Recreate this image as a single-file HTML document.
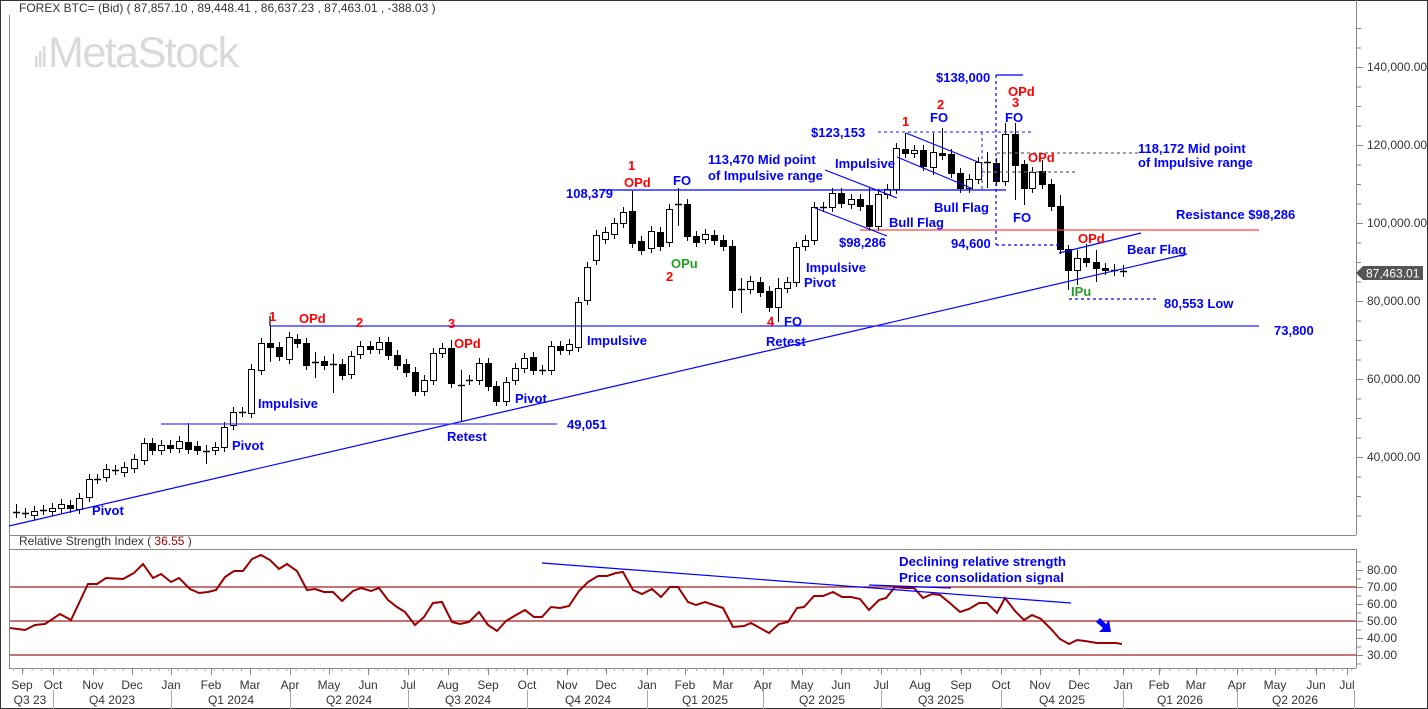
<!DOCTYPE html>
<html><head><meta charset="utf-8"><style>
html,body{margin:0;padding:0;background:#fff;}
svg{display:block;font-family:"Liberation Sans",Arial,sans-serif;}
.bl{fill:#0000ff;font-weight:bold;font-size:13px;}
.rd{fill:#ff0000;font-weight:bold;font-size:13px;}
.gr{fill:#22a022;font-weight:bold;font-size:13px;}
.ax{fill:#333;font-size:12px;}
</style></head><body>
<svg id="s" width="1428" height="709" viewBox="0 0 1428 709" xmlns="http://www.w3.org/2000/svg">
<rect x="0.5" y="0.5" width="1427" height="708" fill="#fff" stroke="#333"/>
<text x="19" y="12" font-size="12" fill="#333">FOREX BTC= (Bid)  ( 87,857.10 ,  89,448.41 ,  86,637.23 ,  87,463.01 ,  -388.03 )</text>
<g fill="#d9d9d9"><rect x="35" y="56" width="2.5" height="11"/><rect x="39" y="51" width="2.5" height="16"/><rect x="43" y="46" width="2.5" height="21"/></g>
<text x="48" y="67" font-size="43" fill="#d9d9d9" letter-spacing="-1.5">MetaStock</text>
<!-- frames -->
<g stroke="#888" fill="none">
<line x1="9.5" y1="15" x2="9.5" y2="668"/>
<line x1="9" y1="535.5" x2="1356" y2="535.5"/>
<line x1="1356.5" y1="0" x2="1356.5" y2="535"/>
<line x1="9" y1="549.5" x2="1356" y2="549.5"/>
<line x1="1356.5" y1="549" x2="1356.5" y2="668"/>
<line x1="9" y1="668.5" x2="1356" y2="668.5"/>
</g>
<g id="g"></g>
<!-- RSI -->
<text x="19" y="545" font-size="12" fill="#333">Relative Strength Index  ( <tspan fill="#a00000">36.55</tspan> )</text>
<g stroke="#a02020" stroke-width="1.2"><line x1="10" y1="587" x2="1356" y2="587"/><line x1="10" y1="621" x2="1356" y2="621"/><line x1="10" y1="655" x2="1356" y2="655"/></g>
<polyline fill="none" stroke="#990000" stroke-width="2" points="10,628 25,630 35,625 45,624 60,614 71,620 88,584 97,584 106,578 123,579 134,573 143,564 153,578 161,574 171,582 179,578 190,589 199,593 208,592 216,590 225,577 234,571 243,571 252,559 261,555 270,560 279,569 287,564 297,571 307,590 315,589 324,592 333,592 342,601 353,591 361,588 371,591 379,588 388,600 397,607 405,612 415,625 424,617 433,603 442,602 452,622 460,624 469,622 479,612 488,625 497,631 506,621 516,615 525,610 534,617 542,617 551,607 560,608 569,606 579,591 588,582 598,576 607,576 616,573 623,572 633,590 642,594 652,589 661,597 670,587 678,587 688,602 696,605 705,602 723,608 733,627 744,626 751,623 760,628 769,633 779,624 788,622 797,608 804,607 814,596 823,596 833,592 842,597 851,597 860,599 869,610 879,600 886,598 895,587 904,588 914,588 923,598 932,594 940,595 951,604 960,612 969,609 979,603 987,603 997,613 1005,598 1015,611 1024,620 1032,615 1041,619 1050,628 1060,639 1069,644 1077,640 1085,641 1097,643 1116,643 1122,644"/>
<line x1="542" y1="563" x2="1071" y2="603" stroke="#0000ff" stroke-width="1.2"/>
<line x1="869" y1="585" x2="951" y2="588" stroke="#0000ff" stroke-width="1.2"/>
<text class="bl" x="899" y="566" textLength="167" lengthAdjust="spacingAndGlyphs">Declining relative strength</text>
<text class="bl" x="899" y="582" textLength="165" lengthAdjust="spacingAndGlyphs">Price consolidation signal</text>
<polygon fill="#0000ff" points="1096,622 1100,618 1106,624 1109,620 1111,632 1099,632 1103,628"/>
<!-- lines main -->
<g stroke-width="1.2">
<line x1="9" y1="526" x2="1187" y2="254" stroke="#0000ff"/>
<line x1="270" y1="326" x2="1259" y2="326" stroke="#2020ff"/>
<line x1="270" y1="316" x2="270" y2="326" stroke="#000"/>
<line x1="161" y1="424" x2="557" y2="424" stroke="#4040ff"/>
<line x1="600" y1="190" x2="1006" y2="190" stroke="#0000ff"/>
<line x1="860" y1="230" x2="1259" y2="230" stroke="#ff4040"/>
<line x1="996" y1="75" x2="1023" y2="75" stroke="#0000ff"/>
<line x1="825" y1="170" x2="897" y2="198" stroke="#0000ff"/>
<line x1="815" y1="208" x2="887" y2="236" stroke="#0000ff"/>
<line x1="906" y1="133" x2="978" y2="162" stroke="#0000ff"/>
<line x1="897" y1="157" x2="971" y2="188" stroke="#0000ff"/>
<line x1="1059" y1="253" x2="1141" y2="233" stroke="#0000ff"/>
</g>
<g stroke-width="1.2" fill="none" stroke-dasharray="3,3">
<line x1="996" y1="75" x2="996" y2="245" stroke="#0000ff"/>
<line x1="996" y1="245" x2="1062" y2="245" stroke="#0000ff"/>
<line x1="878" y1="132" x2="1032" y2="132" stroke="#4040ff"/>
<line x1="982" y1="132" x2="982" y2="190" stroke="#4040ff"/>
<line x1="982" y1="172" x2="1078" y2="172" stroke="#666"/>
<line x1="997" y1="153" x2="1138" y2="153" stroke="#666"/>
<line x1="1069" y1="299" x2="1159" y2="299" stroke="#0000ff"/>
</g>
<!-- labels -->
<g class="bl">
<text x="92" y="515">Pivot</text><text x="232" y="450">Pivot</text><text x="258" y="408">Impulsive</text>
<text x="447" y="441">Retest</text><text x="567" y="429">49,051</text><text x="515" y="403">Pivot</text>
<text x="587" y="345">Impulsive</text><text x="766" y="346">Retest</text><text x="784" y="326">FO</text>
<text x="806" y="272">Impulsive</text><text x="804" y="287">Pivot</text><text x="889" y="227">Bull Flag</text>
<text x="839" y="247">$98,286</text><text x="708" y="164">113,470 Mid point</text><text x="708" y="180">of Impulsive range</text>
<text x="835" y="168">Impulsive</text><text x="566" y="198">108,379</text><text x="673" y="185">FO</text>
<text x="811" y="137">$123,153</text><text x="930" y="122">FO</text><text x="934" y="212">Bull Flag</text>
<text x="936" y="82">$138,000</text><text x="1005" y="122">FO</text><text x="1013" y="222">FO</text>
<text x="951" y="248">94,600</text><text x="1138" y="153">118,172 Mid point</text><text x="1138" y="167">of Impulsive range</text>
<text x="1176" y="219">Resistance $98,286</text><text x="1127" y="254">Bear Flag</text>
<text x="1164" y="308">80,553 Low</text><text x="1274" y="335">73,800</text>
</g>
<g class="rd">
<text x="269" y="321">1</text><text x="299" y="323">OPd</text><text x="356" y="327">2</text><text x="448" y="328">3</text>
<text x="454" y="348">OPd</text><text x="628" y="170">1</text><text x="624" y="187">OPd</text><text x="666" y="281">2</text>
<text x="767" y="326">4</text><text x="902" y="126">1</text><text x="937" y="109">2</text><text x="1012" y="107">3</text>
<text x="1008" y="96">OPd</text><text x="1028" y="162">OPd</text><text x="1078" y="243">OPd</text>
</g>
<g class="gr"><text x="671" y="268">OPu</text><text x="1071" y="296">IPu</text></g>
<!-- price tag -->
<polygon points="1356,273 1363,266 1423,266 1423,280 1363,280" fill="#555"/>
<text x="1366" y="277.5" font-size="12" fill="#fff">87,463.01</text>
<g id="ax" class="ax"></g>
</svg>
<script>
const NS="http://www.w3.org/2000/svg";
function el(p,t,a,txt){const e=document.createElementNS(NS,t);for(const k in a)e.setAttribute(k,a[k]);if(txt!==undefined)e.textContent=txt;p.appendChild(e);return e;}
const g=document.getElementById('g'),ax=document.getElementById('ax');
const C=[[16,512,512,'c',504,518],[25,513,513,'c'],[34,511,515,'w'],[43,510,510,'c'],[52,508,511,'w'],[61,504,508,'w'],[70,505,508,'b'],[79,498,509,'w'],[89,479,497,'w'],[97,479,479,'c'],[106,469,477,'w'],[115,470,470,'c'],[124,467,472,'w'],[134,459,468,'w'],[144,443,460,'w'],[152,443,450,'b'],[161,445,450,'w'],[170,445,448,'b'],[179,441,448,'w',436],[188,442,449,'b',423],[197,446,450,'b'],[206,451,451,'c',445,464],[215,447,450,'w'],[224,427,447,'w'],[233,412,425,'w'],[242,412,412,'c'],[251,369,413,'w'],[261,343,370,'w'],[270,343,347,'b',326,362],[279,347,356,'b'],[289,337,359,'w'],[297,339,343,'b'],[306,343,365,'b'],[315,362,362,'c',352,378],[324,361,365,'b'],[333,364,364,'c',354,393],[342,364,375,'b'],[351,356,374,'w'],[360,346,354,'w'],[370,346,349,'b'],[379,342,349,'w'],[388,342,355,'b'],[397,355,365,'b'],[406,364,372,'b'],[415,372,391,'b'],[424,380,391,'w'],[433,353,380,'w'],[442,348,353,'w'],[451,348,383,'b',340],[461,385,385,'c',370,421],[469,380,380,'c'],[479,363,380,'w'],[488,363,386,'b'],[496,386,401,'b'],[506,382,401,'w'],[515,368,380,'w'],[524,358,368,'w'],[533,357,370,'b'],[542,370,370,'c'],[551,346,370,'w'],[560,346,350,'b'],[569,344,350,'w'],[578,302,347,'w'],[587,267,300,'w'],[596,235,260,'w'],[605,232,239,'w'],[614,223,234,'w'],[623,212,223,'w'],[632,211,243,'b',191],[641,241,250,'b'],[651,231,248,'w'],[660,232,246,'b'],[669,209,242,'w'],[678,204,204,'c',188,226],[687,204,236,'b'],[696,236,242,'b'],[705,234,239,'w'],[714,235,240,'b'],[723,240,246,'b'],[732,246,290,'b',240,308],[741,289,289,'c',278,313],[750,281,289,'w'],[760,282,292,'b'],[769,291,307,'b'],[778,288,307,'w',278,322],[787,282,288,'w'],[796,247,282,'w'],[805,240,246,'w'],[814,207,240,'w'],[823,207,207,'c'],[832,193,207,'w'],[841,193,203,'b'],[851,199,204,'w'],[860,199,206,'b'],[869,205,226,'b',188],[878,194,226,'w'],[887,189,194,'w'],[896,148,189,'w'],[905,149,153,'b',133],[914,150,153,'w'],[923,150,166,'b'],[933,152,167,'w',133,175],[942,153,155,'b',128],[951,154,173,'b'],[960,173,188,'b'],[969,179,188,'w'],[978,162,179,'w'],[987,162,162,'c',152,188],[996,163,181,'b'],[1005,134,181,'w',123],[1015,134,165,'b',123,200],[1024,164,188,'b',160,205],[1032,172,188,'w'],[1042,171,184,'b',160],[1051,184,206,'b'],[1060,206,249,'b',195],[1068,249,270,'b',245,290],[1077,258,270,'w',250,285],[1086,258,262,'b',244],[1096,262,268,'b',250,282],[1105,268,270,'b'],[1114,270,270,'c',264,276],[1123,271,271,'c',265,277]];
for(const c of C){const[x,t,b,ty]=c;const wt=c[4]!==undefined?c[4]:t-5,wb=c[5]!==undefined?c[5]:b+5;
el(g,'line',{x1:x+.5,x2:x+.5,y1:wt,y2:wb,stroke:'#000','stroke-width':1});
if(ty==='c')el(g,'line',{x1:x-3,x2:x+4,y1:t+.5,y2:t+.5,stroke:'#000','stroke-width':1.5});
else el(g,'rect',{x:x-2.5,y:t+.5,width:6,height:Math.max(2,b-t),fill:ty==='b'?'#000':'#fff',stroke:'#000','stroke-width':1});}
// price axis
for(let v=150000;v>=25000;v-=5000){const y=67+(140000-v)*78/20000;if(y<5||y>533)continue;const maj=v%20000===0;
el(ax,'line',{x1:1356,x2:maj?1363:1361,y1:y+.5,y2:y+.5,stroke:'#888'});
if(maj)el(ax,'text',{x:1367,y:y+4},v.toLocaleString('en-US')+'.00');}
// rsi axis
for(let v=85;v>=25;v-=5){const yy=655-(v-30)*(68/40);if(yy<551||yy>667)continue;const maj=v%10===0;
el(ax,'line',{x1:1356,x2:maj?1363:1361,y1:yy+.5,y2:yy+.5,stroke:'#888'});
if(maj&&v<=80)el(ax,'text',{x:1367,y:yy+4},v+'.00');}
// x axis
for(let x=14;x<1356;x+=9.1)el(ax,'line',{x1:x,x2:x,y1:668,y2:671,stroke:'#aaa'});
const M=[['Sep',22],['Oct',53],['Nov',93],['Dec',132],['Jan',171],['Feb',211],['Mar',250],['Apr',290],['May',329],['Jun',368],['Jul',408],['Aug',448],['Sep',488],['Oct',527],['Nov',567],['Dec',606],['Jan',647],['Feb',685],['Mar',723],['Apr',763],['May',802],['Jun',841],['Jul',881],['Aug',920],['Sep',961],['Oct',1001],['Nov',1040],['Dec',1079],['Jan',1123],['Feb',1159],['Mar',1196],['Apr',1237],['May',1275],['Jun',1316],['Jul',1347]];
for(const[m,x]of M){el(ax,'line',{x1:x+.5,x2:x+.5,y1:668,y2:675,stroke:'#888'});el(ax,'text',{x:x,y:689,'text-anchor':'middle'},m);}
for(const x of[53,171,290,408,527,647,763,881,1001,1123,1237,1354])el(ax,'line',{x1:x+.5,x2:x+.5,y1:690,y2:709,stroke:'#aaa'});
const Q=[['Q3 23',30],['Q4 2023',112],['Q1 2024',231],['Q2 2024',349],['Q3 2024',468],['Q4 2024',588],['Q1 2025',705],['Q2 2025',822],['Q3 2025',941],['Q4 2025',1062],['Q1 2026',1180],['Q2 2026',1295]];
for(const[q,x]of Q)el(ax,'text',{x:x,y:704,'text-anchor':'middle'},q);
</script>
</body></html>
